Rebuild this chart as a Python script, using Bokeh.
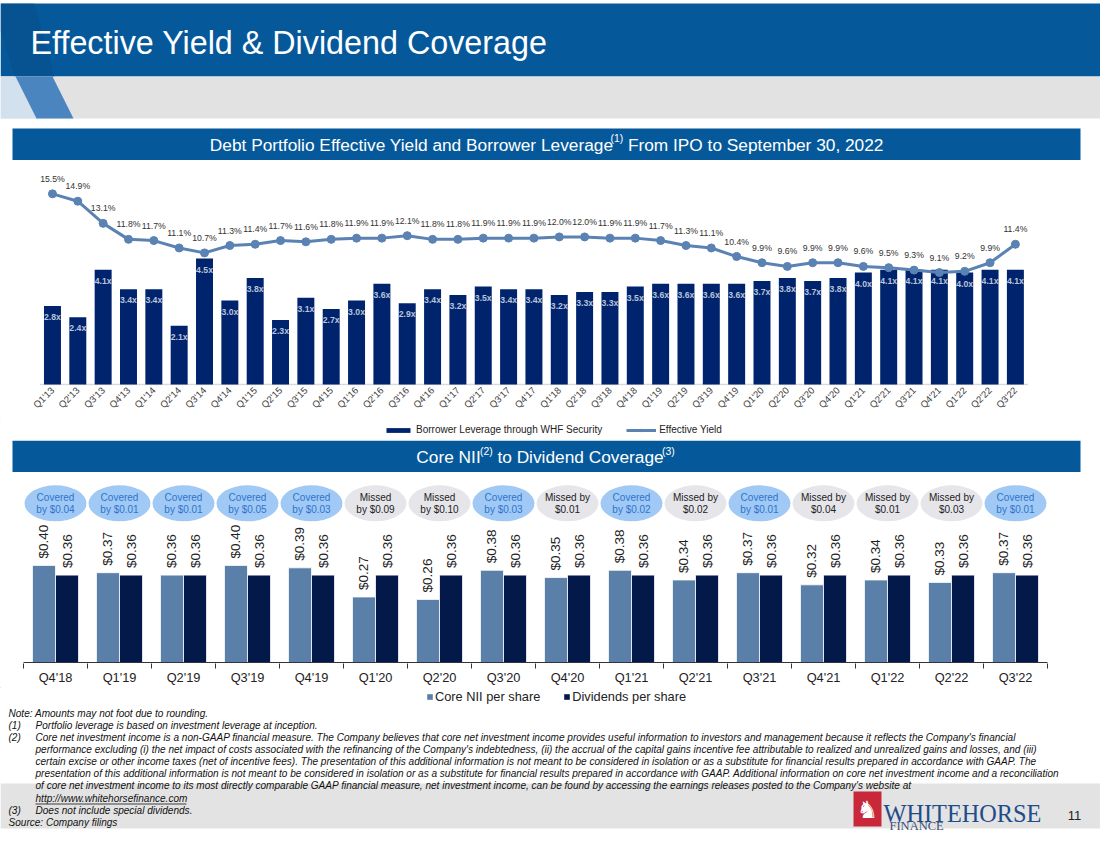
import math
from bokeh.plotting import figure
from bokeh.models import (ColumnDataSource, Range1d, LinearAxis,
                          FixedTicker, Legend, LegendItem)
from bokeh.transform import dodge
from bokeh.layouts import column
from bokeh.embed import file_html
from bokeh.resources import INLINE
from bokeh.core.properties import value

FONT = "Liberation Sans"
SERIF = "Liberation Serif"

# ---------------- data ----------------
yield_quarters = ["Q1'13", "Q2'13", "Q3'13", "Q4'13", "Q1'14", "Q2'14", "Q3'14", "Q4'14",
                  "Q1'15", "Q2'15", "Q3'15", "Q4'15", "Q1'16", "Q2'16", "Q3'16", "Q4'16",
                  "Q1'17", "Q2'17", "Q3'17", "Q4'17", "Q1'18", "Q2'18", "Q3'18", "Q4'18",
                  "Q1'19", "Q2'19", "Q3'19", "Q4'19", "Q1'20", "Q2'20", "Q3'20", "Q4'20",
                  "Q1'21", "Q2'21", "Q3'21", "Q4'21", "Q1'22", "Q2'22", "Q3'22"]
borrower_leverage = [2.8, 2.4, 4.1, 3.4, 3.4, 2.1, 4.5, 3.0, 3.8, 2.3, 3.1, 2.7, 3.0, 3.6, 2.9,
                     3.4, 3.2, 3.5, 3.4, 3.4, 3.2, 3.3, 3.3, 3.5, 3.6, 3.6, 3.6, 3.6, 3.7, 3.8,
                     3.7, 3.8, 4.0, 4.1, 4.1, 4.1, 4.0, 4.1, 4.1]
effective_yield = [15.5, 14.9, 13.1, 11.8, 11.7, 11.1, 10.7, 11.3, 11.4, 11.7, 11.6, 11.8, 11.9,
                   11.9, 12.1, 11.8, 11.8, 11.9, 11.9, 11.9, 12.0, 12.0, 11.9, 11.9, 11.7, 11.3,
                   11.1, 10.4, 9.9, 9.6, 9.9, 9.9, 9.6, 9.5, 9.3, 9.1, 9.2, 9.9, 11.4]

nii_quarters = ["Q4'18", "Q1'19", "Q2'19", "Q3'19", "Q4'19", "Q1'20", "Q2'20", "Q3'20",
                "Q4'20", "Q1'21", "Q2'21", "Q3'21", "Q4'21", "Q1'22", "Q2'22", "Q3'22"]
core_nii_per_share = [0.40, 0.37, 0.36, 0.40, 0.39, 0.27, 0.26, 0.38,
                      0.35, 0.38, 0.34, 0.37, 0.32, 0.34, 0.33, 0.37]
dividends_per_share = [0.36, 0.36, 0.36, 0.36, 0.36, 0.36, 0.36, 0.36,
                       0.36, 0.36, 0.36, 0.36, 0.36, 0.36, 0.36, 0.36]
coverage_notes = ["Covered\nby $0.04", "Covered\nby $0.01", "Covered\nby $0.01", "Covered\nby $0.05",
                  "Covered\nby $0.03", "Missed\nby $0.09", "Missed\nby $0.10", "Covered\nby $0.03",
                  "Missed by\n$0.01", "Covered\nby $0.02", "Missed by\n$0.02", "Covered\nby $0.01",
                  "Missed by\n$0.04", "Missed by\n$0.01", "Missed by\n$0.03", "Covered\nby $0.01"]

page_title = "Effective Yield & Dividend Coverage"
legend1_labels = ["Borrower Leverage through WHF Security", "Effective Yield"]
legend2_labels = ["Core NII per share", "Dividends per share"]
footnotes = [
    ("", "Note: Amounts may not foot due to rounding."),
    ("(1)", "Portfolio leverage is based on investment leverage at inception."),
    ("(2)", "Core net investment income is a non-GAAP financial measure. The Company believes that core net investment income provides useful information to investors and management because it reflects the Company's financial"),
    ("", "performance excluding (i) the net impact of costs associated with the refinancing of the Company's indebtedness, (ii) the accrual of the capital gains incentive fee attributable to realized and unrealized gains and losses, and (iii)"),
    ("", "certain excise or other income taxes (net of incentive fees). The presentation of this additional information is not meant to be considered in isolation or as a substitute for financial results prepared in accordance with GAAP. The"),
    ("", "presentation of this additional information is not meant to be considered in isolation or as a substitute for financial results prepared in accordance with GAAP. Additional information on core net investment income and a reconciliation"),
    ("", "of core net investment income to its most directly comparable GAAP financial measure, net investment income, can be found by accessing the earnings releases posted to the Company's website at"),
    ("", "http://www.whitehorsefinance.com"),
    ("(3)", "Does not include special dividends."),
    ("", "Source: Company filings"),
]

# ---------------- helpers ----------------
_W = {' ': 278, '(': 333, ')': 333, ',': 278, '.': 278, '&': 667, "'": 191, '/': 278,
      ':': 278, '-': 333, '%': 889, '$': 556}
for c in '0123456789':
    _W[c] = 556
_W.update(dict(A=667, B=667, C=722, D=722, E=667, F=611, G=778, H=722, I=278, J=500, K=667,
               L=556, M=833, N=722, O=778, P=667, Q=778, R=722, S=667, T=611, U=722, V=667,
               W=944, X=667, Y=667, Z=611))
_W.update(dict(a=556, b=556, c=500, d=556, e=556, f=278, g=556, h=556, i=222, j=222, k=500,
               l=222, m=833, n=556, o=556, p=556, q=556, r=333, s=500, t=278, u=556, v=500,
               w=722, x=500, y=500, z=500))


def tw(s, size):
    return sum(_W.get(ch, 556) for ch in s) * size / 1000.0 * 0.99


W = 1100
BLUE = "#05599b"
NAVY1 = "#00236e"
LINEBLUE = "#5a82b2"
CORE = "#5a7fa9"
DIV = "#03194a"


def style(p):
    p.outline_line_color = None
    p.grid.visible = False
    p.background_fill_color = "white"
    p.border_fill_color = "white"


def deco_fig(y_top, y_bot):
    p = figure(width=W, height=y_bot - y_top, x_range=Range1d(0, W), y_range=Range1d(y_bot, y_top),
               x_axis_type=None, y_axis_type=None, toolbar_location=None,
               output_backend="svg", min_border=0)
    style(p)
    return p


def banner(p, yc, parts, cx, size):
    # parts: (text, is_superscript); leading spaces become offsets (SVG collapses them)
    sizes = [size * (0.6 if s else 1.0) for _, s in parts]
    widths = [tw(t, sz) for (t, _), sz in zip(parts, sizes)]
    x = cx - sum(widths) / 2.0
    for (t, s), sz, w in zip(parts, sizes, widths):
        lead = len(t) - len(t.lstrip(" "))
        p.text(x=[x + tw(" " * lead, sz)], y=[yc - (size * 0.33 if s else 0)], text=[t.lstrip(" ")],
               text_font=value(FONT), text_font_size=f"{sz:.1f}px", text_color="white",
               text_baseline="middle", text_align="left")
        x += w


def make_legend(p, items, loc, gw, gh, fsize, spacing, standoff):
    p.add_layout(Legend(items=items, location=loc, orientation="horizontal",
                        glyph_width=gw, glyph_height=gh, label_text_font=FONT,
                        label_text_font_size=fsize, label_text_color="#222222",
                        spacing=spacing, padding=0, margin=0, label_standoff=standoff,
                        border_line_color=None, background_fill_alpha=0))


# ---------------- header (page y 0-160) ----------------
top = deco_fig(0, 160)
top.quad(left=[0], right=[W], top=[3], bottom=[76], fill_color=BLUE, line_color=None)
top.quad(left=[0], right=[W], top=[76], bottom=[118], fill_color="#e2e2e2", line_color=None)
top.patch(x=[0, 34, 54, 14, 0], y=[3, 3, 76, 76, 30], fill_color="#0a4d88", line_color=None, fill_alpha=0.5)
top.patch(x=[0, 15, 36, 0], y=[76, 76, 118, 118], fill_color="#d3e0ee", line_color=None)
top.patch(x=[15, 52, 73, 36], y=[76, 76, 118, 118], fill_color="#4a85bf", line_color=None)
top.text(x=[30], y=[42], text=[page_title], text_font=value(FONT), text_font_size="32.3px",
         text_color="white", text_baseline="middle", text_align="left")
top.quad(left=[12], right=[1080], top=[128], bottom=[160], fill_color=BLUE, line_color=None)
banner(top, 144, [("Debt Portfolio Effective Yield and Borrower Leverage", False), ("(1)", True),
                  (" From IPO to September 30, 2022", False)], 545, 17.3)

# ---------------- chart 1 (page y 160-418, frame 160-385, baseline 384) ----------------
n1 = len(yield_quarters)
c1 = [i + 0.5 for i in range(n1)]
src1 = ColumnDataSource(dict(
    xc=c1, q=yield_quarters, lev=borrower_leverage, yld=effective_yield,
    lev_lbl=[f"{v:.1f}x" for v in borrower_leverage],
    yld_lbl=[f"{v:.1f}%" for v in effective_yield]))

S1, X1 = 25.34, 39.3          # px per quarter, page x of the first slot
p1 = figure(width=W, height=258, x_range=Range1d(-X1 / S1, (W - X1) / S1),
            y_range=Range1d(-1 / 28.0, 224 / 28.0), x_axis_type=None, y_axis_type=None,
            toolbar_location=None, output_backend="svg",
            min_border_left=0, min_border_right=0, min_border_top=0, min_border_bottom=33)
p1.extra_y_ranges = {"yield": Range1d(-1 / 12.3, 224 / 12.3)}
style(p1)

p1.segment(x0=[0], y0=[0], x1=[n1], y1=[0], line_color="#d9d9d9", line_width=1.5)
bars1 = p1.vbar(x="xc", top="lev", width=0.67, source=src1, fill_color=NAVY1, line_color=None)
p1.text(x="xc", y="lev", text="lev_lbl", source=src1, y_offset=11, text_align="center",
        text_baseline="middle", text_font=value(FONT), text_font_size="8.7px",
        text_font_style="bold", text_color="#b9c4d9")
p1.line(x="xc", y="yld", source=src1, y_range_name="yield", line_color=LINEBLUE,
        line_width=3, line_join="round")
p1.scatter(x="xc", y="yld", source=src1, y_range_name="yield", size=8,
           fill_color=LINEBLUE, line_color=LINEBLUE)
p1.text(x="xc", y="yld", text="yld_lbl", source=src1, y_range_name="yield", y_offset=-15,
        text_align="center", text_baseline="middle", text_font=value(FONT),
        text_font_size="8.7px", text_color="#333333")

ax1 = LinearAxis(ticker=FixedTicker(ticks=c1, minor_ticks=[]),
                 major_label_overrides={c: q for c, q in zip(c1, yield_quarters)})
ax1.major_label_orientation = math.pi / 4
ax1.axis_line_color = None
ax1.major_tick_line_color = None
ax1.major_tick_out = 0
ax1.major_tick_in = 0
ax1.minor_tick_line_color = None
ax1.minor_tick_out = 0
ax1.minor_tick_in = 0
ax1.major_label_text_font = FONT
ax1.major_label_text_font_size = "9.5px"
ax1.major_label_text_color = "#404040"
ax1.major_label_standoff = 3
p1.add_layout(ax1, "below")

# legend strip for chart 1 (page y 418-440)
lg1 = deco_fig(418, 440)
r_bar = lg1.vbar(x=[-100], top=[1], width=1, fill_color=NAVY1, line_color=None)
r_line = lg1.line(x=[-100, -90], y=[1, 1], line_color=LINEBLUE, line_width=3)
r_dot = lg1.scatter(x=[-100], y=[1], size=8, fill_color=LINEBLUE, line_color=LINEBLUE)
make_legend(lg1, [LegendItem(label=legend1_labels[0], renderers=[r_bar]),
                  LegendItem(label=legend1_labels[1], renderers=[r_line, r_dot])],
            (383, 5), 30, 6, "10px", 24, 3)

# ---------------- banner 2 (page y 440-472) ----------------
b2 = deco_fig(440, 472)
b2.quad(left=[12], right=[1080], top=[440], bottom=[472], fill_color=BLUE, line_color=None)
banner(b2, 456.5, [("Core NII", False), ("(2)", True), (" to Dividend Coverage", False), ("(3)", True)],
       545, 17.3)

# ---------------- chart 2 (page y 472-687, frame 472-664, baseline 663) ----------------
n = len(nii_quarters)
centers = [i + 0.5 for i in range(n)]
covered = [s.startswith("Covered") for s in coverage_notes]
src2 = ColumnDataSource(dict(
    xc=centers, q=nii_quarters, core=core_nii_per_share, div=dividends_per_share,
    core_lbl=[f"${v:.2f}" for v in core_nii_per_share],
    div_lbl=[f"${v:.2f}" for v in dividends_per_share],
    note=coverage_notes,
    efill=["#a0c9f5" if c else "#e6e6ea" for c in covered],
    tcol=["#2f74cc" if c else "#222222" for c in covered]))

S2, X2 = 64.0, 23.0
p2 = figure(width=W, height=215, x_range=Range1d(-X2 / S2, (W - X2) / S2),
            y_range=Range1d(-1 / 244.0, 191 / 244.0),
            x_axis_type=None, y_axis_type=None, toolbar_location=None, output_backend="svg",
            min_border_left=0, min_border_right=0, min_border_top=0, min_border_bottom=23)
style(p2)

p2.vbar(x=dodge("xc", -0.18), top="core", width=0.36, source=src2,
        fill_color=CORE, line_color="white", line_width=0.8)
p2.vbar(x=dodge("xc", 0.18), top="div", width=0.36, source=src2,
        fill_color=DIV, line_color="white", line_width=0.8)
p2.segment(x0=[0], y0=[0], x1=[n], y1=[0], line_color="#333333", line_width=1)
for col, lbl, off in (("core", "core_lbl", -0.18), ("div", "div_lbl", 0.18)):
    p2.text(x=dodge("xc", off), y=col, text=lbl, source=src2, angle=math.pi / 2,
            y_offset=-7, text_align="left", text_baseline="middle", text_font=value(FONT),
            text_font_size="13.5px", text_color="#222222")

ELL_Y = 160 / 244.0
p2.ellipse(x="xc", y=ELL_Y, width=62, height=36, width_units="screen", height_units="screen",
           source=src2, fill_color="efill", line_color=None)
p2.text(x="xc", y=ELL_Y, text="note", source=src2, text_align="center", text_baseline="middle",
        text_font=value(FONT), text_font_size="10px", text_color="tcol", text_line_height=1.15)

ax2 = LinearAxis(ticker=FixedTicker(ticks=centers, minor_ticks=list(range(n + 1))),
                 major_label_overrides={c: q for c, q in zip(centers, nii_quarters)})
ax2.axis_line_color = None
ax2.major_tick_line_color = None
ax2.major_tick_out = 0
ax2.major_tick_in = 0
ax2.minor_tick_line_color = "#333333"
ax2.minor_tick_out = 5
ax2.minor_tick_in = 0
ax2.major_label_text_font = FONT
ax2.major_label_text_font_size = "12.8px"
ax2.major_label_text_color = "#222222"
ax2.major_label_standoff = 1
p2.add_layout(ax2, "below")

# legend strip for chart 2 (page y 687-705)
lg2 = deco_fig(687, 705)
r_core = lg2.vbar(x=[-100], top=[1], width=1, fill_color=CORE, line_color=None)
r_div = lg2.vbar(x=[-100], top=[1], width=1, fill_color=DIV, line_color=None)
make_legend(lg2, [LegendItem(label=legend2_labels[0], renderers=[r_core]),
                  LegendItem(label=legend2_labels[1], renderers=[r_div])],
            (426, 1), 7, 7, "12.8px", 23, 2)

# ---------------- footer (page y 705-849) ----------------
ft = deco_fig(705, 849)
ft.quad(left=[0], right=[W], top=[783], bottom=[828], fill_color="#e3e3e3", line_color=None)
FN_SIZE = 10.05
for k, (pre, txt) in enumerate(footnotes):
    yy = 713 + 12 * k + (1 if k >= 7 else 0)
    if pre:
        ft.text(x=[8], y=[yy], text=[pre], text_font=value(FONT), text_font_size=f"{FN_SIZE}px",
                text_font_style="italic", text_color="#111111", text_baseline="middle")
    xx = 8 if txt.startswith("Note") or txt.startswith("Source") else 35
    ft.text(x=[xx], y=[yy], text=[txt], text_font=value(FONT), text_font_size=f"{FN_SIZE}px",
            text_font_style="italic", text_color="#111111", text_baseline="middle")
    if txt.startswith("http"):
        ft.segment(x0=[xx], y0=[yy + 5.5], x1=[xx + tw(txt, FN_SIZE)], y1=[yy + 5.5],
                   line_color="#111111", line_width=0.8)

# logo
ft.quad(left=[853], right=[881], top=[791], bottom=[826], fill_color="#c8283a", line_color=None)
ft.text(x=[867], y=[809], text=["\u265e"], text_font=value("DejaVu Sans"), text_font_size="24px",
        text_color="white", text_align="center", text_baseline="middle")
ft.text(x=[883], y=[813], text=["WHITEHORSE"], text_font=value(SERIF), text_font_size="24.3px",
        text_color="#1f4c8a", text_align="left", text_baseline="alphabetic")
ft.text(x=[889], y=[825], text=["FINANCE"], text_font=value(SERIF), text_font_size="12.5px",
        text_color="#3b4f78", text_align="left", text_baseline="alphabetic")
ft.text(x=[1074], y=[815], text=["11"], text_font=value(FONT), text_font_size="13px",
        text_color="#222222", text_align="center", text_baseline="middle")

page = column(top, p1, lg1, b2, p2, lg2, ft, spacing=0)
open("out.html", "w").write(file_html(page, INLINE))
